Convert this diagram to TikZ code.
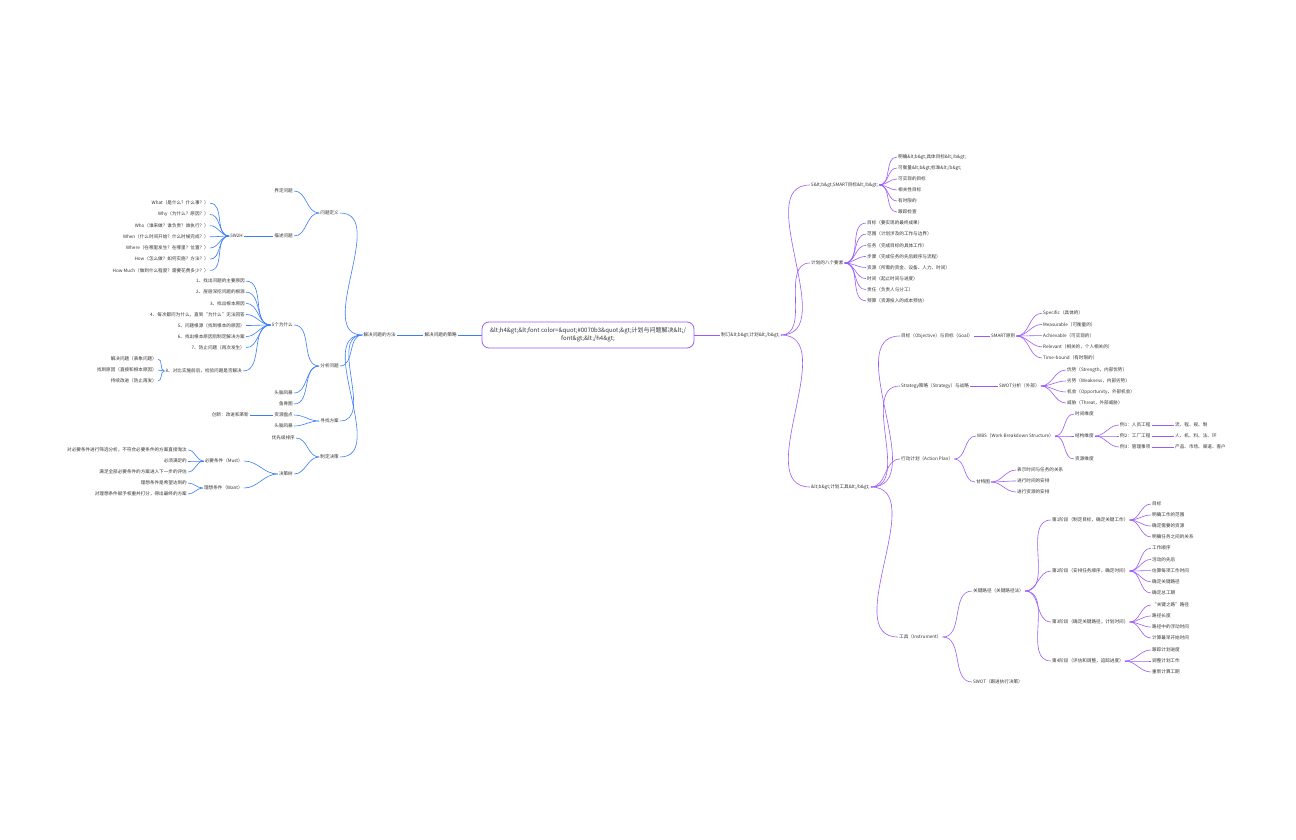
\documentclass[tikz,border=0pt]{standalone}
\usepackage{fontspec}
\setmainfont{Noto Sans CJK SC}
\usetikzlibrary{shapes.misc}
\definecolor{pl}{HTML}{9B5CF6}
\definecolor{bl}{HTML}{3B7DF5}
\definecolor{tx}{HTML}{333333}
\begin{document}
\begin{tikzpicture}[x=1pt,y=-1pt,
  every node/.style={font=\fontsize{4.6}{5.5}\selectfont,text=tx,inner sep=1pt},
  R/.style={anchor=west},L/.style={anchor=east},
  pc/.style={draw=pl,line width=0.6pt},bc/.style={draw=bl,line width=0.6pt}]
\useasboundingbox (0,0) rectangle (1296,840);
\node[draw=pl,line width=0.8pt,rounded corners=7pt,minimum width=212pt,minimum height=26pt,align=center,font=\fontsize{6}{8}\selectfont] (root) at (588,335) {\&lt;h4\&gt;\&lt;font color=\&quot;\#0070b3\&quot;\&gt;计划与问题解决\&lt;/\\font\&gt;\&lt;/h4\&gt;};
% ---------- right ----------
\node[R] (R0) at (720,335) {制订\&lt;b\&gt;计划\&lt;/b\&gt;};
\draw[pc] (root.east) -- (R0.west);
\node[R] (A) at (810,185) {5\&lt;b\&gt;SMART目标\&lt;/b\&gt;};
\node[R] (B) at (810,263) {计划的八个要素};
\node[R] (C) at (810,487) {\&lt;b\&gt;计划工具\&lt;/b\&gt;};
\foreach \c in {A,B,C} \draw[pc] (R0.east) to[out=0,in=180] (\c.west);
\foreach \t [count=\i] in {明确\&lt;b\&gt;具体目标\&lt;/b\&gt;,可衡量\&lt;b\&gt;标准\&lt;/b\&gt;,可实现的目标,相关性目标,有时限的,跟踪检查}
  {\node[R] (a\i) at (897,146+11*\i) {\t}; \draw[pc] (A.east) to[out=0,in=180] (a\i.west);}
\foreach \t [count=\i] in {目标（要实现的最终成果）,范围（计划涉及的工作与边界）,任务（完成目标的具体工作）,步骤（完成任务的先后顺序与流程）,资源（所需的资金、设备、人力、时间）,时间（起止时间与进度）,责任（负责人与分工）,预算（资源投入的成本预估）}
  {\node[R] (b\i) at (866,212+11.1*\i) {\t}; \draw[pc] (B.east) to[out=0,in=180] (b\i.west);}
\node[R] (C1) at (900,336) {目标（Objective）与目标（Goal）};
\node[R] (C2) at (900,386) {Strategy策略（Strategy）与战略};
\node[R] (C3) at (900,459) {行动计划（Action Plan）};
\node[R] (C4) at (898,637) {工具（Instrument）};
\foreach \c in {C1,C2,C3,C4} \draw[pc] (C.east) to[out=0,in=180] (\c.west);
\node[R] (S1) at (990,336) {SMART原则};
\draw[pc] (C1.east) -- (S1.west);
\foreach \t [count=\i] in {Specific（具体的）,Measurable（可衡量的）,Achievable（可实现的）,Relevant（相关的，个人相关的）,Time-bound（有时限的）}
  {\node[R] (s\i) at (1042,302+11.2*\i) {\t}; \draw[pc] (S1.east) to[out=0,in=180] (s\i.west);}
\node[R] (S2) at (998,386) {SWOT分析（外部）};
\draw[pc] (C2.east) -- (S2.west);
\foreach \t [count=\i] in {优势（Strength，内部优势）,劣势（Weakness，内部劣势）,机会（Opportunity，外部机会）,威胁（Threat，外部威胁）}
  {\node[R] (w\i) at (1066,359+11*\i) {\t}; \draw[pc] (S2.east) to[out=0,in=180] (w\i.west);}
\node[R] (WB) at (976,436) {WBS（Work Breakdown Structure）};
\node[R] (GT) at (975,482) {甘特图};
\foreach \c in {WB,GT} \draw[pc] (C3.east) to[out=0,in=180] (\c.west);
\node[R] (W1) at (1074,414) {时间维度};
\node[R] (W2) at (1074,436) {结构维度};
\node[R] (W3) at (1074,459) {资源维度};
\foreach \c in {W1,W2,W3} \draw[pc] (WB.east) to[out=0,in=180] (\c.west);
\foreach \t/\u [count=\i] in {例1：人员工程/流、程、规、制,例2：工厂工程/人、机、料、法、环,例3：管理事项/产品、市场、渠道、客户}
  {\node[R] (x\i) at (1119,414+11*\i) {\t}; \draw[pc] (W2.east) to[out=0,in=180] (x\i.west);
   \node[R] (y\i) at (1174,414+11*\i) {\u}; \draw[pc] (x\i.east) -- (y\i.west);}
\foreach \t [count=\i] in {表示时间与任务的关系,进行时间的安排,进行资源的安排}
  {\node[R] (g\i) at (1016,459+11*\i) {\t}; \draw[pc] (GT.east) to[out=0,in=180] (g\i.west);}
\node[R] (K) at (972,591) {关键路径（关键路径法）};
\node[R] (KS) at (972,682) {SWOT（跟进执行决策）};
\foreach \c in {K,KS} \draw[pc] (C4.east) to[out=0,in=180] (\c.west);
\node[R] (k1) at (1051,520) {第1阶段（制定目标，确定关键工作）};
\node[R] (k2) at (1051,571) {第2阶段（安排任务顺序，确定时间）};
\node[R] (k3) at (1051,622) {第3阶段（确定关键路径，计划时间）};
\node[R] (k4) at (1051,661) {第4阶段（评估和调整，追踪进度）};
\foreach \c in {k1,k2,k3,k4} \draw[pc] (K.east) to[out=0,in=180] (\c.west);
\foreach \t [count=\i] in {目标,明确工作的范围,确定需要的资源,明确任务之间的关系}
  {\node[R] (m\i) at (1151,493+11*\i) {\t}; \draw[pc] (k1.east) to[out=0,in=180] (m\i.west);}
\foreach \t [count=\i] in {工作顺序,活动的先后,估算每项工作时间,确定关键路径,确定总工期}
  {\node[R] (n\i) at (1151,537+11.2*\i) {\t}; \draw[pc] (k2.east) to[out=0,in=180] (n\i.west);}
\foreach \t [count=\i] in {“关键之路”路径,路径长度,路径中的浮动时间,计算最早开始时间}
  {\node[R] (o\i) at (1151,594+11*\i) {\t}; \draw[pc] (k3.east) to[out=0,in=180] (o\i.west);}
\foreach \t [count=\i] in {跟踪计划进度,调整计划工作,重新计算工期}
  {\node[R] (q\i) at (1151,639+11*\i) {\t}; \draw[pc] (k4.east) to[out=0,in=180] (q\i.west);}
% ---------- left ----------
\node[L] (L0) at (458,335) {解决问题的策略};
\node[L] (L1) at (397,335) {解决问题的方法};
\draw[bc] (root.west) -- (L0.east);
\draw[bc] (L0.west) -- (L1.east);
\node[L] (P1) at (340,213) {问题定义};
\node[L] (P2) at (340,366) {分析问题};
\node[L] (P3) at (340,421) {寻找方案};
\node[L] (P4) at (340,457) {制定决策};
\foreach \c in {P1,P2,P3,P4} \draw[bc] (L1.west) to[out=180,in=0] (\c.east);
\node[L] (D1) at (294,191) {界定问题};
\node[L] (D2) at (294,236) {描述问题};
\foreach \c in {D1,D2} \draw[bc] (P1.west) to[out=180,in=0] (\c.east);
\node[L] (H) at (244,236) {5W2H};
\draw[bc] (D2.west) -- (H.east);
\foreach \t [count=\i] in {What（是什么？什么事？）,Why（为什么？原因？）,Who（谁来做？谁负责？谁执行？）,When（什么时间开始？什么时候完成？）,Where（在哪里发生？在哪里？位置？）,How（怎么做？如何实施？方法？）,How Much（做到什么程度？需要花费多少？）}
  {\node[L] (h\i) at (210,192+11.2*\i) {\t}; \draw[bc] (H.west) to[out=180,in=0] (h\i.east);}
\node[L] (F) at (294,325) {5个为什么};
\node[L] (F2) at (294,393) {头脑风暴};
\node[L] (F3) at (294,404) {鱼骨图};
\foreach \c in {F,F2,F3} \draw[bc] (P2.west) to[out=180,in=0] (\c.east);
\foreach \t [count=\i] in {1、找出问题的主要原因,2、层层深挖问题的根源,3、找出根本原因,4、每次都问为什么，直到“为什么”无法回答,5、问题根源（找到根本的原因）,6、找出根本原因后制定解决方案,7、防止问题（再次发生）}
  {\node[L] (f\i) at (246,270+11.1*\i) {\t}; \draw[bc] (F.west) to[out=180,in=0] (f\i.east);}
\node[L] (f8) at (243,371) {8、对比实施前后，检验问题是否解决};
\draw[bc] (F.west) to[out=180,in=0] (f8.east);
\foreach \t [count=\i] in {解决问题（表象问题）,找到原因（直接和根本原因）,持续改进（防止再发）}
  {\node[L] (e\i) at (158,348+11*\i) {\t}; \draw[bc] (f8.west) to[out=180,in=0] (e\i.east);}
\node[L] (G1) at (294,415) {资源盘点};
\node[L] (G2) at (294,426) {头脑风暴};
\foreach \c in {G1,G2} \draw[bc] (P3.west) to[out=180,in=0] (\c.east);
\node[L] (G0) at (250,415) {创新：改进和革新};
\draw[bc] (G1.west) -- (G0.east);
\node[L] (T1) at (296,438) {优先级排序};
\node[L] (T2) at (294,474) {决策树};
\foreach \c in {T1,T2} \draw[bc] (P4.west) to[out=180,in=0] (\c.east);
\node[L] (M) at (244,461) {必要条件（Must）};
\node[L] (W) at (244,488) {理想条件（Want）};
\foreach \c in {M,W} \draw[bc] (T2.west) to[out=180,in=0] (\c.east);
\foreach \t [count=\i] in {对必要条件进行筛选分析，不符合必要条件的方案直接淘汰,必须满足的,满足全部必要条件的方案进入下一步的评估}
  {\node[L] (u\i) at (188,439+11*\i) {\t}; \draw[bc] (M.west) to[out=180,in=0] (u\i.east);}
\foreach \t [count=\i] in {理想条件是希望达到的,对理想条件赋予权重并打分，得出最终的方案}
  {\node[L] (v\i) at (188,472+11*\i) {\t}; \draw[bc] (W.west) to[out=180,in=0] (v\i.east);}
\end{tikzpicture}
\end{document}
